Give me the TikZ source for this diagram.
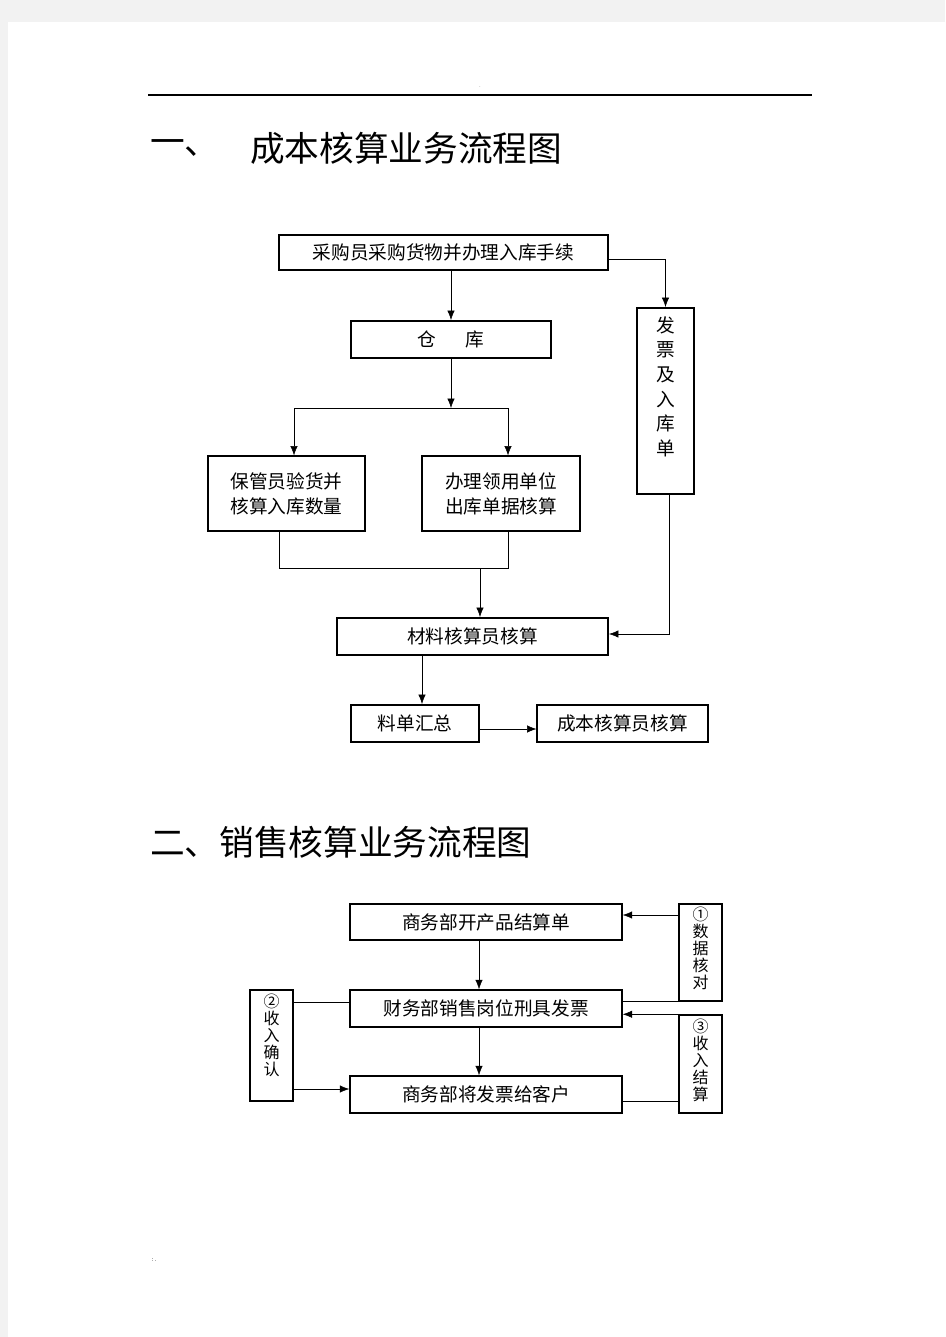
\documentclass[tikz,border=0pt]{standalone}
\usepackage{fontspec}
\newfontfamily\cjk{Noto Sans CJK SC}
\usetikzlibrary{arrows.meta}
\definecolor{pagegray}{HTML}{F2F2F2}

\begin{document}
\begin{tikzpicture}[x=0.75pt,y=-0.75pt,
    >={Latex[length=7pt,width=5.5pt]},
    wh/.style 2 args={minimum width=#1*0.75pt,minimum height=#2*0.75pt},
    box/.style={draw,line width=0.8pt,inner sep=0pt,align=center,
      font=\cjk\fontsize{14}{18.75}\selectfont},
    thickbox/.style={box,line width=1.5pt},
    vtxt/.style={inner sep=0pt,align=center,anchor=north,
      font=\cjk\fontsize{14}{18.45}\selectfont},
    stxt/.style={inner sep=0pt,align=center,anchor=north,
      font=\cjk\fontsize{12}{12.75}\selectfont},
    title/.style={inner sep=0pt,anchor=west,font=\cjk\fontsize{26}{30}\selectfont}]
  % page
  \useasboundingbox (0,0) rectangle (945,1337);
  \fill[pagegray] (0,0) rectangle (945,1337);
  \fill[white] (8,22) rectangle (945,1337);
  \draw[line width=0.8pt] (148,95) -- (812,95);
  \node[inner sep=0pt,font=\tiny,gray] (dot) at (480,87) {.};
  \node[inner sep=0pt,font=\tiny] (foot) at (154,1260) {:.};

  % part one
  \node[title] (t1a) at (150,148) {一、};
  \node[title] (t1b) at (250,148) {成本核算业务流程图};

  \node[box,wh={329}{35}] (buy) at (443.5,252.5) {采购员采购货物并办理入库手续};
  \node[thickbox,wh={200}{37}] (store) at (451,339.5) {仓\hspace{22pt}库};
  \node[box,wh={157}{75}] (keep) at (286.5,493.5) {保管员验货并\\核算入库数量};
  \node[box,wh={158}{75}] (issue) at (501,493.5) {办理领用单位\\出库单据核算};
  \node[thickbox,wh={57}{186}] (inv) at (665.5,401) {};
  \node[vtxt] (invtxt) at ([yshift=-7pt]inv.north) {发\\票\\及\\入\\库\\单};
  \node[thickbox,wh={271}{37}] (mat) at (472.5,636.5) {材料核算员核算};
  \node[thickbox,wh={128}{37}] (sum) at (415,723.5) {料单汇总};
  \node[box,wh={171}{37}] (cost) at (622.5,723.5) {成本核算员核算};

  \coordinate (split) at (451,408);
  \coordinate (sl) at (294,408);
  \coordinate (sr) at (508,408);
  \coordinate (bi) at (608,259);
  \coordinate (ml) at (279,568);
  \coordinate (mr) at (508,568);
  \coordinate (mm) at (480,568);
  \coordinate (ib) at (669,634);
  \coordinate (md) at (422,680);
  \coordinate (sc) at (479,729);

  \draw[->] (buy.south -| store) -- (store.north);
  \draw[->] (store) -- (split);
  \draw (sl) -- (sr);
  \draw[->] (sl) -- (sl |- keep.north);
  \draw[->] (sr) -- (sr |- issue.north);
  \draw[->] (bi) -| (inv.north);
  \draw (ml |- keep.south) -- (ml) -- (mr) -- (mr |- issue.south);
  \draw[->] (mm) -- (mm |- mat.north);
  \draw[->] (inv.south -| ib) -- (ib) -- (ib -| mat.east);
  \draw[->] (mat.south -| md) -- (md |- sum.north);
  \draw[->] (sc) -- (sc -| cost.west);

  % part two
  \node[title] (t2) at (150,842) {二、销售核算业务流程图};

  \node[box,line width=1.1pt,wh={272}{36}] (bill) at (486,922) {商务部开产品结算单};
  \node[box,line width=1.1pt,wh={272}{37}] (tax) at (486,1008.5) {财务部销售岗位刑具发票};
  \node[box,line width=1.1pt,wh={272}{37}] (give) at (486,1094.5) {商务部将发票给客户};
  \node[box,line width=1.1pt,wh={43}{97}] (chk) at (700.5,952.5) {};
  \node[stxt] (chktxt) at ([yshift=-2.5pt]chk.north) {①\\数\\据\\核\\对};
  \node[box,line width=1.1pt,wh={43}{98}] (settle) at (700.5,1064) {};
  \node[stxt] (settletxt) at ([yshift=-3pt]settle.north) {③\\收\\入\\结\\算};
  \node[box,line width=1.1pt,wh={43}{111}] (confirm) at (271.5,1045.5) {};
  \node[stxt] (confirmtxt) at ([yshift=-3.5pt]confirm.north) {②\\收\\入\\确\\认};

  \coordinate (axis) at (479,960);
  \coordinate (c1) at (679,915);
  \coordinate (c3) at (679,1101);
  \coordinate (c2a) at (293,1002);
  \coordinate (c2b) at (293,1089);

  \draw[->] (bill.south -| axis) -- (tax.north -| axis);
  \draw[->] (tax.south -| axis) -- (give.north -| axis);
  \draw[->] (c1) -- (c1 -| bill.east);
  \draw (chk.south west) -- (chk.south west -| tax.east);
  \draw[->] (settle.north west) -- (settle.north west -| tax.east);
  \draw (c3 -| give.east) -- (c3);
  \draw (c2a) -- (c2a -| tax.west);
  \draw[->] (c2b) -- (c2b -| give.west);
\end{tikzpicture}
\end{document}
